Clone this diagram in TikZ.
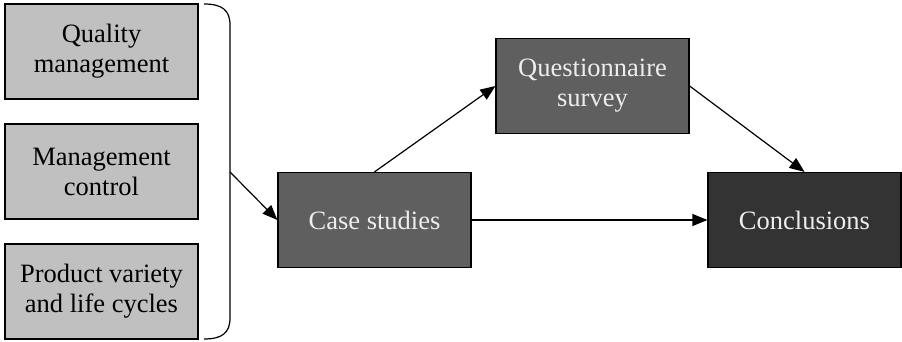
\documentclass[tikz,border=0pt]{standalone}
\usepackage{fontspec}
\setmainfont{Liberation Serif}
\usepackage{xcolor}
\usetikzlibrary{arrows.meta}

\definecolor{lightbox}{HTML}{C0C0C0}
\definecolor{midbox}{HTML}{5F5F5F}
\definecolor{darkbox}{HTML}{333333}

\begin{document}
\begin{tikzpicture}[x=1pt, y=-1pt,
    box/.style={draw=black, line width=1.2pt, minimum width=193pt, minimum height=95pt,
        align=center, inner sep=0pt, font=\fontsize{26.5}{30}\selectfont},
    topic/.style={box, fill=lightbox, text=black},
    method/.style={box, fill=midbox, text=white!93!black},
    result/.style={box, fill=darkbox, text=white!93!black},
    flow/.style={-{Triangle[length=15pt,width=12pt]}, line width=1.2pt}]
    \useasboundingbox (0,0) rectangle (902,341);

    % research topics
    \node[topic] (quality) at (101.5,51.5) {Quality\\management};
    \node[topic] (control) at (101.5,171.5) {Management\\control};
    \node[topic] (variety) at (101.5,291.5) {Product variety\\and life cycles};

    % brace round the topics
    \draw[line width=1.2pt] (204,4) .. controls (222,4) and (230,10) .. (230,25)
        -- (230,318) .. controls (230,333) and (222,339) .. (204,339);
    \coordinate (brace) at (230,172);

    % research steps
    \node[method] (cases) at (374.5,220) {Case studies};
    \node[method] (survey) at (592.5,86) {Questionnaire\\survey};
    \node[result] (concl) at (804.5,220) {Conclusions};

    \draw[flow] (brace) -- (cases.west);
    \draw[flow] (cases.north) -- (survey.west);
    \draw[flow] (survey.east) -- (concl.north);
    \draw[flow] (cases.east) -- (concl.west);
\end{tikzpicture}
\end{document}
